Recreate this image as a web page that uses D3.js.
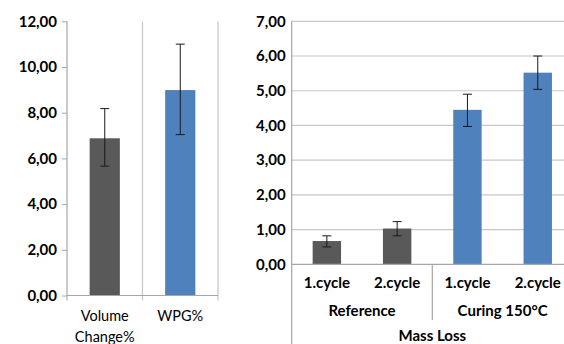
<!DOCTYPE html>
<html><head><meta charset="utf-8">
<script src="https://cdn.jsdelivr.net/npm/d3@7"></script>
<style>
html,body{margin:0;padding:0;background:#fff;}
svg{display:block;font-family:Lato,"Open Sans",sans-serif;}
</style></head>
<body>
<svg id="c" width="564" height="344"></svg>
<script>
// Left chart
const leftCats = ["Volume Change%", "WPG%"];
const leftLabels = [["Volume","Change%"],["WPG%"]];
const leftValues = [6.88, 8.99];
const leftErrHigh = [8.18, 11.0];
const leftErrLow = [5.66, 7.04];
const leftColors = ["#595959", "#4f81bd"];
const leftTicks = [0,2,4,6,8,10,12];

// Right chart
const rightCats = ["Ref-1","Ref-2","Cur-1","Cur-2"];
const rightSub = ["1.cycle","2.cycle","1.cycle","2.cycle"];
const rightGroups = ["Reference","Curing 150°C"];
const rightTitle = "Mass Loss";
const rightValues = [0.67, 1.03, 4.45, 5.52];
const rightErrHigh = [0.82, 1.23, 4.90, 6.00];
const rightErrLow = [0.50, 0.82, 3.97, 5.04];
const rightColors = ["#595959","#595959","#4f81bd","#4f81bd"];
const rightTicks = [0,1,2,3,4,5,6,7];

const fmt = v => d3.format(".2f")(v).replace(".", ",");
const svg = d3.select("#c");
const axisCol = "#a6a6a6", gridCol = "#c8c8c8";
const boldSize = 15;

// ---------- Left ----------
const yL = d3.scaleLinear().domain([0,12]).range([295.5, 21.3]);
const xL = d3.scaleBand().domain(leftCats).range([67, 218]).padding(0);
const gL = svg.append("g");
leftCats.forEach((c,i)=>{
  const x = xL(c)+xL.bandwidth();
  gL.append("line").attr("x1",x).attr("x2",x).attr("y1",yL(12)).attr("y2",yL(0)+5)
    .attr("stroke",gridCol).attr("stroke-width",1.2);
});
const bwL = xL.bandwidth()*0.4;
gL.selectAll("rect.b").data(leftCats).enter().append("rect")
  .attr("x",d=>xL(d)+xL.bandwidth()/2-bwL/2).attr("width",bwL)
  .attr("y",(d,i)=>yL(leftValues[i])).attr("height",(d,i)=>yL(0)-yL(leftValues[i]))
  .attr("fill",(d,i)=>leftColors[i]);
leftCats.forEach((c,i)=>{
  const cx = xL(c)+xL.bandwidth()/2;
  const g = gL.append("g").attr("stroke","#1a1a1a").attr("stroke-width",1);
  g.append("line").attr("x1",cx).attr("x2",cx).attr("y1",yL(leftErrHigh[i])).attr("y2",yL(leftErrLow[i]));
  g.append("line").attr("x1",cx-4.5).attr("x2",cx+4.5).attr("y1",yL(leftErrHigh[i])).attr("y2",yL(leftErrHigh[i]));
  g.append("line").attr("x1",cx-4.5).attr("x2",cx+4.5).attr("y1",yL(leftErrLow[i])).attr("y2",yL(leftErrLow[i]));
});
const axL = gL.append("g").attr("transform","translate(67,0)")
  .call(d3.axisLeft(yL).tickValues(leftTicks).tickFormat(fmt).tickSize(5).tickPadding(5));
axL.select(".domain").attr("stroke",axisCol).attr("stroke-width",1.2).attr("d","M0,"+yL(12)+"V"+yL(0));
axL.selectAll(".tick line").attr("stroke",axisCol);
axL.selectAll(".tick text").attr("fill","#000").attr("font-size",boldSize).attr("font-weight","bold").attr("font-family","Lato");
const axLx = gL.append("g").attr("transform","translate(0,"+yL(0)+")");
axLx.append("line").attr("x1",67).attr("x2",218).attr("stroke",axisCol).attr("stroke-width",1.2);
axLx.append("line").attr("x1",67).attr("x2",67).attr("y1",0).attr("y2",5).attr("stroke",axisCol);
leftCats.forEach((c,i)=>{
  const t = axLx.append("text").attr("text-anchor","middle").attr("font-size",14.5).attr("fill","#000");
  leftLabels[i].forEach((s,j)=>{
    t.append("tspan").attr("x",xL(c)+xL.bandwidth()/2).attr("y",25.5+j*21).text(s);
  });
});

// ---------- Right ----------
const yR = d3.scaleLinear().domain([0,7]).range([264.3, 21.3]);
const xR = d3.scaleBand().domain(rightCats).range([291.7, 291.7+4*70.3]).padding(0);
const gR = svg.append("g");
gR.selectAll("line.grid").data(rightTicks.slice(1)).enter().append("line")
  .attr("x1",291.7).attr("x2",564).attr("y1",d=>yR(d)).attr("y2",d=>yR(d))
  .attr("stroke",gridCol).attr("stroke-width",1.2);
const bwR = xR.bandwidth()*0.404;
gR.selectAll("rect.b").data(rightCats).enter().append("rect")
  .attr("x",d=>xR(d)+xR.bandwidth()/2-bwR/2).attr("width",bwR)
  .attr("y",(d,i)=>yR(rightValues[i])).attr("height",(d,i)=>yR(0)-yR(rightValues[i]))
  .attr("fill",(d,i)=>rightColors[i]);
rightCats.forEach((c,i)=>{
  const cx = xR(c)+xR.bandwidth()/2;
  const g = gR.append("g").attr("stroke","#1a1a1a").attr("stroke-width",1);
  g.append("line").attr("x1",cx).attr("x2",cx).attr("y1",yR(rightErrHigh[i])).attr("y2",yR(rightErrLow[i]));
  g.append("line").attr("x1",cx-4.5).attr("x2",cx+4.5).attr("y1",yR(rightErrHigh[i])).attr("y2",yR(rightErrHigh[i]));
  g.append("line").attr("x1",cx-4.5).attr("x2",cx+4.5).attr("y1",yR(rightErrLow[i])).attr("y2",yR(rightErrLow[i]));
});
const axR = gR.append("g").attr("transform","translate(291.7,0)")
  .call(d3.axisLeft(yR).tickValues(rightTicks).tickFormat(fmt).tickSize(0).tickPadding(6));
axR.select(".domain").attr("stroke",axisCol).attr("stroke-width",1.2).attr("d","M0,"+yR(7)+"V344");
axR.selectAll(".tick text").attr("fill","#000").attr("font-size",boldSize).attr("font-weight","bold").attr("font-family","Lato");
gR.append("line").attr("x1",291.7).attr("x2",564).attr("y1",yR(0)).attr("y2",yR(0)).attr("stroke",axisCol).attr("stroke-width",1.2);
const sepX = xR(rightCats[2]);
gR.append("line").attr("x1",sepX).attr("x2",sepX).attr("y1",yR(0)).attr("y2",320).attr("stroke",axisCol).attr("stroke-width",1.2);
rightCats.forEach((c,i)=>{
  gR.append("text").attr("x",xR(c)+xR.bandwidth()/2).attr("y",yR(0)+24)
    .attr("text-anchor","middle").attr("font-size",boldSize).attr("font-weight","bold").attr("fill","#000").text(rightSub[i]);
});
rightGroups.forEach((gname,i)=>{
  const x0 = xR(rightCats[i*2]), x1 = xR(rightCats[i*2+1])+xR.bandwidth();
  gR.append("text").attr("x",(x0+x1)/2).attr("y",yR(0)+51.5)
    .attr("text-anchor","middle").attr("font-size",boldSize).attr("font-weight","bold").attr("fill","#000").text(gname);
});
gR.append("text").attr("x",432.3).attr("y",yR(0)+76.5).attr("text-anchor","middle")
  .attr("font-size",boldSize).attr("font-weight","bold").attr("fill","#000").text(rightTitle);
</script>
</body></html>
